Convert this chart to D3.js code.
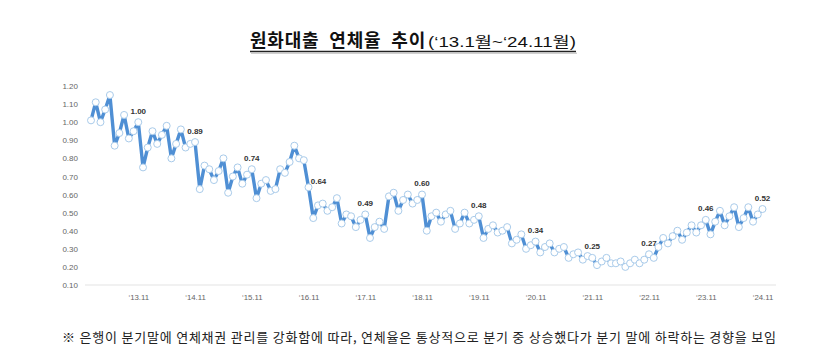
<!DOCTYPE html>
<html><head><meta charset="utf-8">
<script src="https://cdn.jsdelivr.net/npm/d3@7/dist/d3.min.js"></script>
<style>body{margin:0;background:#fff}svg{display:block}</style>
</head><body><svg id="c" width="830" height="363"></svg>
<script>
// ---- data ----
const startYear = 2013;
const rate2013 = [1.01, 1.11, 1.00, 1.07, 1.15, 0.87, 0.94, 1.04, 0.91, 0.95, 1.00, 0.75];
const rate2014 = [0.86, 0.95, 0.88, 0.93, 0.98, 0.80, 0.88, 0.96, 0.86, 0.88, 0.89, 0.63];
const rate2015 = [0.76, 0.74, 0.68, 0.73, 0.80, 0.61, 0.70, 0.75, 0.66, 0.71, 0.74, 0.58];
const rate2016 = [0.66, 0.68, 0.62, 0.63, 0.74, 0.72, 0.78, 0.87, 0.80, 0.79, 0.64, 0.47];
const rate2017 = [0.54, 0.55, 0.51, 0.53, 0.58, 0.44, 0.49, 0.48, 0.42, 0.46, 0.49, 0.36];
const rate2018 = [0.42, 0.45, 0.41, 0.59, 0.61, 0.51, 0.57, 0.60, 0.55, 0.57, 0.60, 0.40];
const rate2019 = [0.48, 0.50, 0.45, 0.49, 0.51, 0.41, 0.44, 0.50, 0.44, 0.46, 0.48, 0.36];
const rate2020 = [0.41, 0.43, 0.39, 0.40, 0.42, 0.33, 0.35, 0.38, 0.30, 0.32, 0.34, 0.28];
const rate2021 = [0.31, 0.33, 0.28, 0.30, 0.31, 0.25, 0.27, 0.28, 0.24, 0.26, 0.25, 0.21];
const rate2022 = [0.23, 0.25, 0.22, 0.22, 0.23, 0.20, 0.22, 0.24, 0.22, 0.24, 0.27, 0.25];
const rate2023 = [0.31, 0.36, 0.33, 0.37, 0.40, 0.35, 0.39, 0.43, 0.39, 0.43, 0.46, 0.38];
const rate2024 = [0.45, 0.51, 0.43, 0.48, 0.53, 0.42, 0.47, 0.53, 0.45, 0.49, 0.52];
const tickLabels = ["\u201813.11","\u201814.11","\u201815.11","\u201816.11","\u201817.11","\u201818.11",
                    "\u201819.11","\u201820.11","\u201821.11","\u201822.11","\u201823.11","\u201824.11"];
const labelMonth = 11;
const yTicks = [0.10,0.20,0.30,0.40,0.50,0.60,0.70,0.80,0.90,1.00,1.10,1.20];
const titleMain = "원화대출 연체율 추이";
const titleSub = "(\u201813.1월~\u201824.11월)";
const footnote = "※ 은행이 분기말에 연체채권 관리를 강화함에 따라, 연체율은 통상적으로 분기 중 상승했다가 분기 말에 하락하는 경향을 보임";

// ---- build ----
const yearly = [rate2013,rate2014,rate2015,rate2016,rate2017,rate2018,rate2019,rate2020,rate2021,rate2022,rate2023,rate2024];
const series = yearly.flatMap((arr, yi) => arr.map((v, mi) => ({year: startYear + yi, month: mi + 1, v})));
series.forEach((d, i) => d.i = i);

const svg = d3.select("#c");
const x = d3.scaleLinear().domain([0, series.length - 1]).range([91, 762.5]);
const y = d3.scaleLinear().domain([0.10, 1.20]).range([285, 86]);

// title
const tMain = svg.append("text").attr("x", 250).attr("y", 47).attr("fill", "#111")
  .attr("font-family", "'Noto Sans CJK KR','Noto Sans',sans-serif")
  .attr("font-weight", "bold").attr("font-size", 18)
  .attr("letter-spacing", 0.8).attr("word-spacing", 5)
  .text(titleMain);
const subX = 250 + Math.max(tMain.node().getComputedTextLength() - 5, 178);
svg.append("text").attr("x", subX).attr("y", 47).attr("fill", "#111")
  .attr("font-family", "'Liberation Sans','Noto Sans CJK KR',sans-serif")
  .attr("font-size", 15).attr("textLength", 576 - subX).attr("lengthAdjust", "spacingAndGlyphs")
  .text(titleSub);
svg.append("line").attr("x1", 250).attr("x2", 576).attr("y1", 51.5).attr("y2", 51.5)
  .attr("stroke", "#222").attr("stroke-width", 1.3);
svg.append("line").attr("x1", 251).attr("x2", 577).attr("y1", 53.2).attr("y2", 53.2)
  .attr("stroke", "#bbb").attr("stroke-width", 1);

// baseline
svg.append("line").attr("x1", 85).attr("x2", 776).attr("y1", y(0.10)).attr("y2", y(0.10))
  .attr("stroke", "#e3e3e3").attr("stroke-width", 1);

// y axis
const yAxis = svg.append("g").attr("transform", "translate(80,0)")
  .call(d3.axisLeft(y).tickValues(yTicks).tickFormat(d3.format(".2f")).tickSize(0).tickPadding(2));
yAxis.select(".domain").remove();
yAxis.selectAll("text").attr("font-family", "'Liberation Sans',Arial,sans-serif")
  .attr("font-size", 8).attr("fill", "#666");

// x axis
const nov = series.filter(d => d.month === labelMonth);
const xAxis = svg.append("g").attr("transform", `translate(0,${y(0.10)})`)
  .call(d3.axisBottom(x).tickValues(nov.map(d => d.i)).tickFormat((d, k) => tickLabels[k]).tickSize(0).tickPadding(9));
xAxis.select(".domain").remove();
xAxis.selectAll("text").attr("font-family", "'Liberation Sans',Arial,sans-serif")
  .attr("font-size", 7.8).attr("fill", "#666");

// line
svg.append("path").datum(series)
  .attr("d", d3.line().x(d => x(d.i)).y(d => y(d.v)))
  .attr("fill", "none").attr("stroke", "#4f8fd4").attr("stroke-width", 3.4)
  .attr("stroke-linejoin", "round");

// markers
svg.append("g").selectAll("circle").data(series).join("circle")
  .attr("cx", d => x(d.i)).attr("cy", d => y(d.v)).attr("r", 3.5)
  .attr("fill", "#fff").attr("stroke", "#a9cbea").attr("stroke-width", 1);

// data labels
const labelDx = {2016: 10};
const labelDy = {2016: 5};
svg.append("g").selectAll("text").data(nov).join("text")
  .attr("x", d => x(d.i) + (labelDx[d.year] || 0))
  .attr("y", d => y(d.v) - 8.5 + (labelDy[d.year] || 0))
  .attr("text-anchor", "middle")
  .attr("font-family", "'Liberation Sans',Arial,sans-serif")
  .attr("font-size", 8).attr("font-weight", "bold").attr("fill", "#333")
  .text(d => d3.format(".2f")(d.v));

// footnote
svg.append("text").attr("x", 62).attr("y", 342)
  .attr("font-family", "'Noto Sans CJK KR',sans-serif").attr("font-size", 13).attr("fill", "#222")
  .attr("textLength", 714).attr("lengthAdjust", "spacing")
  .text(footnote);
</script></body></html>
